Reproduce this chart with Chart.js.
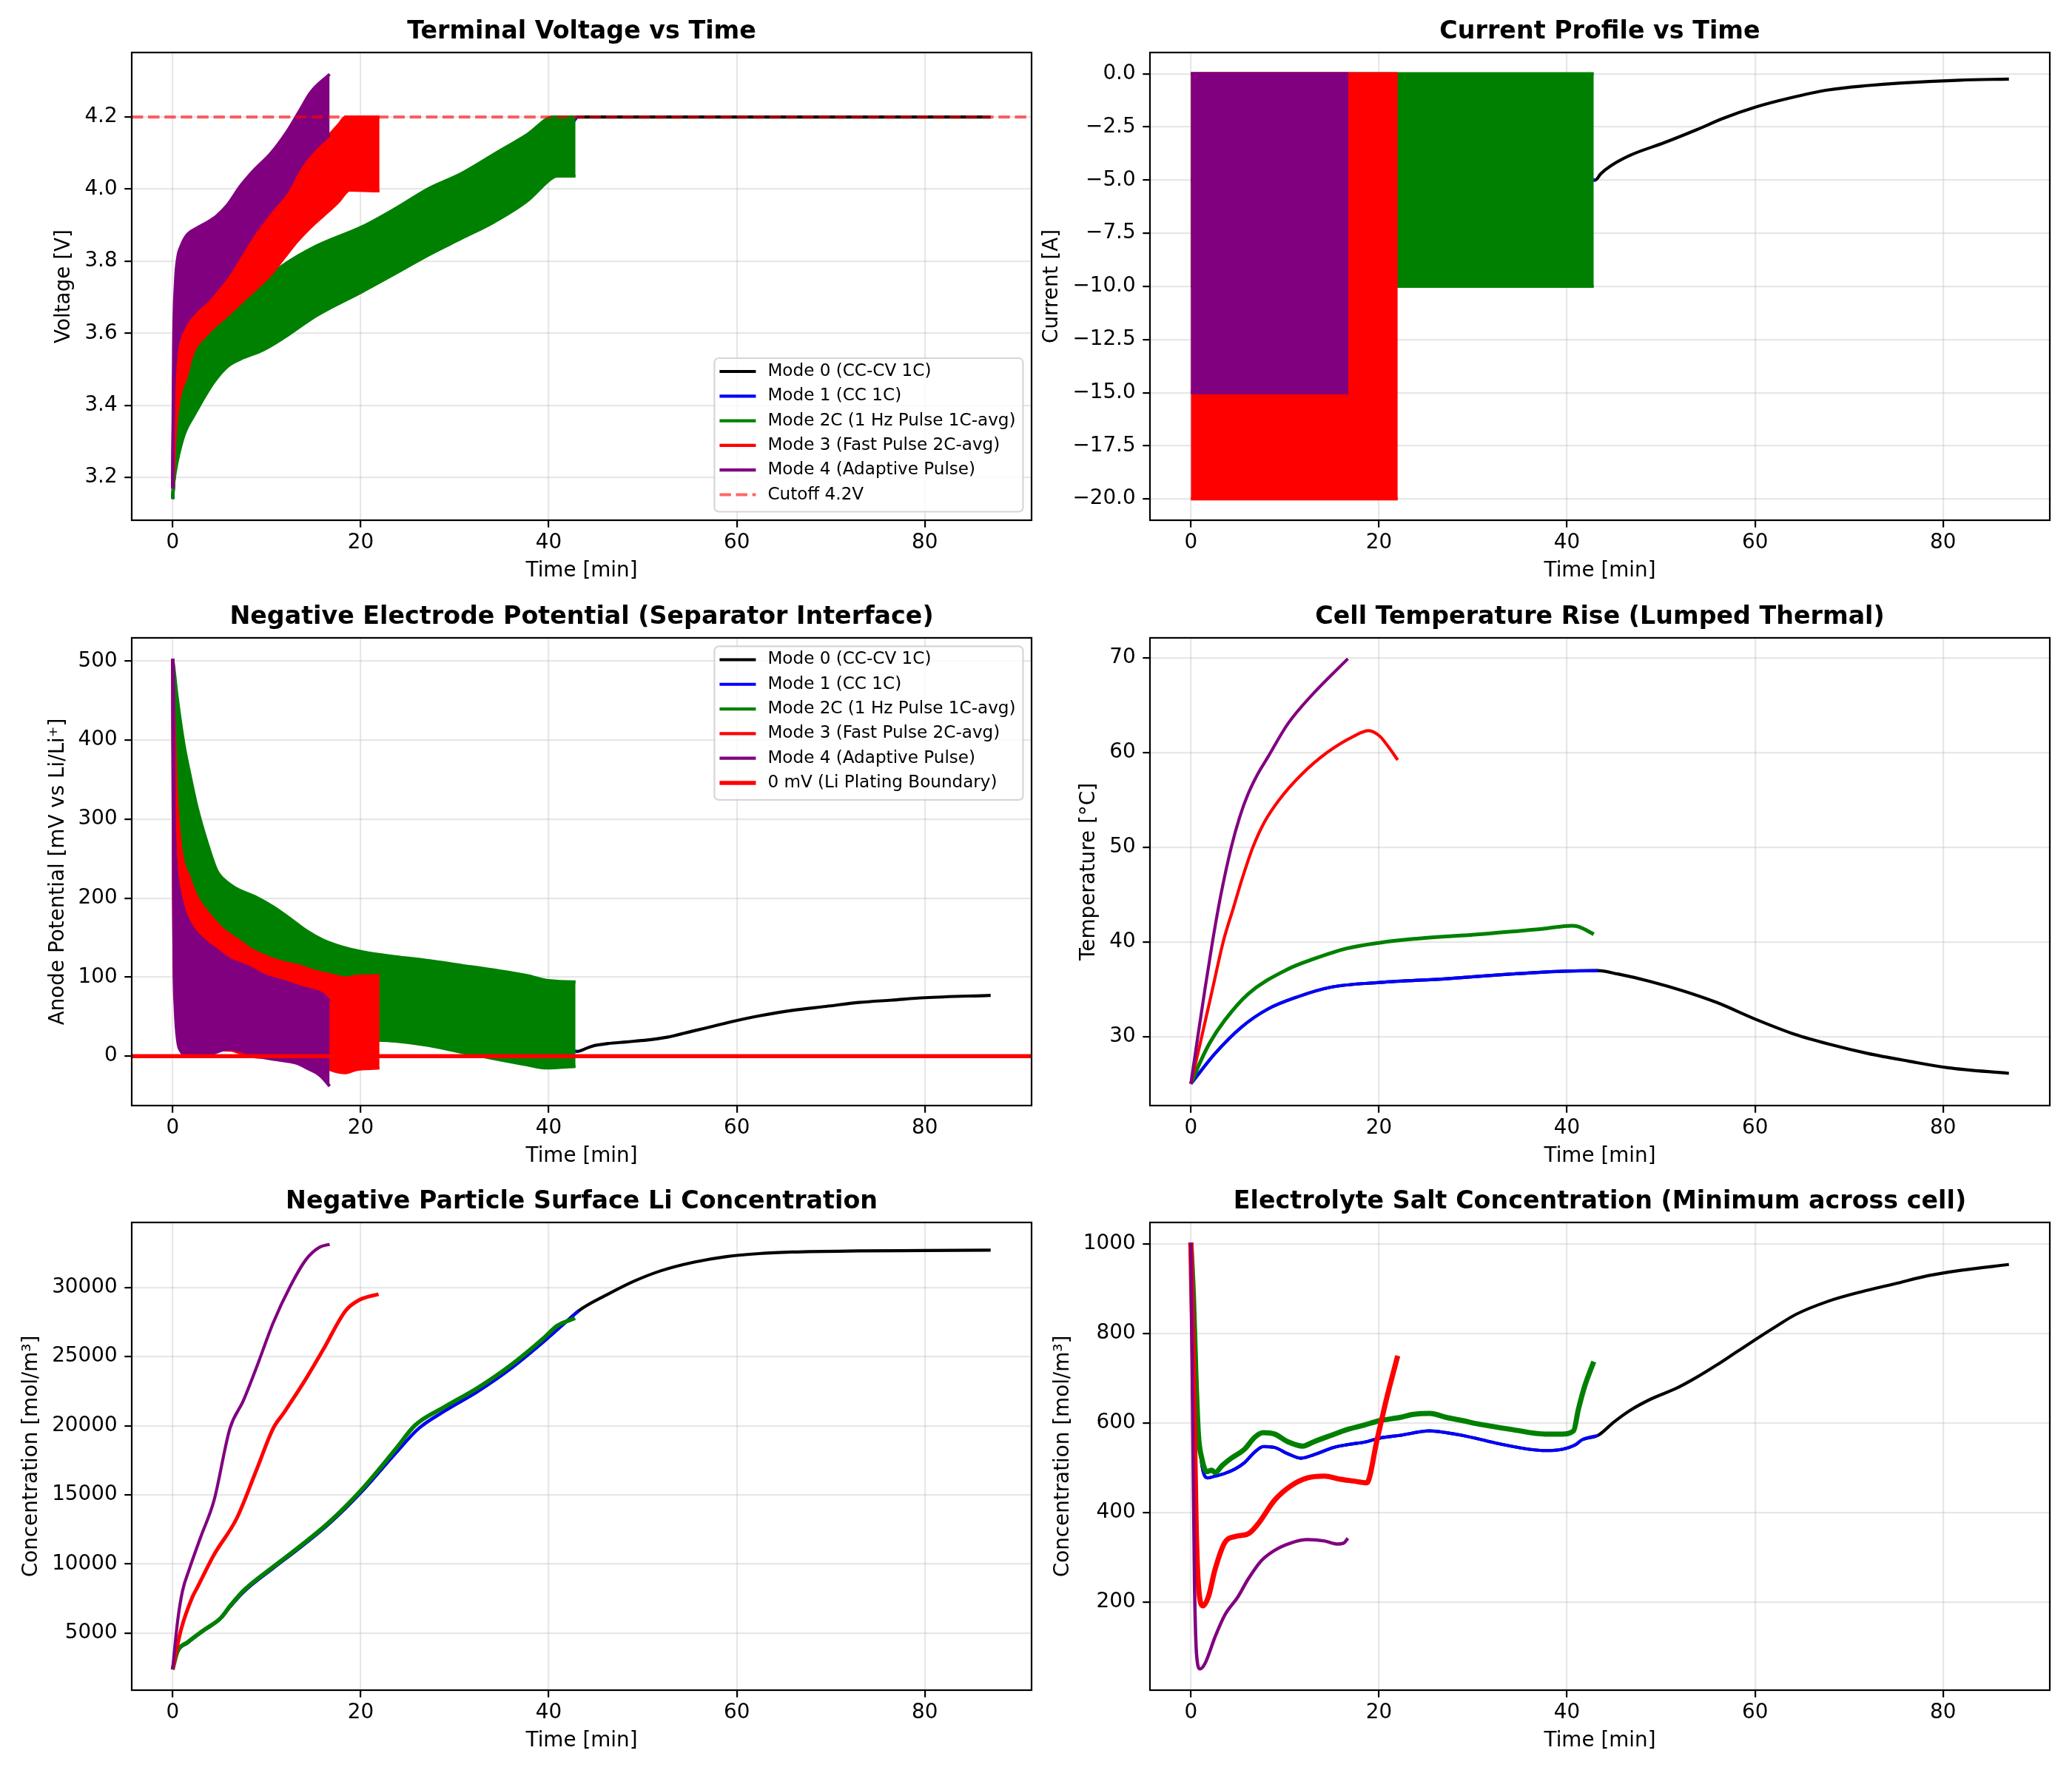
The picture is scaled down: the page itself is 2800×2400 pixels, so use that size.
<!DOCTYPE html>
<html>
<head>
<meta charset="utf-8">
<script src="https://cdn.jsdelivr.net/npm/chart.js@4.4.1/dist/chart.umd.min.js"></script>
<style>
  body { margin: 0; background: #fff; }
  #fig { position: relative; width: 2800px; height: 2400px; background: #fff; }
  canvas { position: absolute; }
</style>
</head>
<body>
<div id="fig"></div>
<script>
// ---------- tick labels ----------
const xTicks = [0, 20, 40, 60, 80];
const vTicks = [3.2, 3.4, 3.6, 3.8, 4.0, 4.2];
const iTicks = [0, -2.5, -5, -7.5, -10, -12.5, -15, -17.5, -20];
const aTicks = [0, 100, 200, 300, 400, 500];
const tempTicks = [30, 40, 50, 60, 70];
const csTicks = [5000, 10000, 15000, 20000, 25000, 30000];
const ceTicks = [200, 400, 600, 800, 1000];

const modeLabels = ['Mode 0 (CC-CV 1C)', 'Mode 1 (CC 1C)', 'Mode 2C (1 Hz Pulse 1C-avg)',
                    'Mode 3 (Fast Pulse 2C-avg)', 'Mode 4 (Adaptive Pulse)'];
const cutoffV = 4.2;
const platingMV = 0;

// ---------- terminal voltage [V] (pulse modes as envelopes) ----------
const vT1 = [0, 0.5, 1.4, 3.2, 5.8, 9.6, 15.3, 20.2, 27.2, 34.2, 40.5, 43.0];
const vMode1 = [3.14, 3.32, 3.40, 3.50, 3.578, 3.65, 3.745, 3.806, 3.909, 4.003, 4.115, 4.2];
const vT0 = [0, 0.5, 1.4, 3.2, 5.8, 9.6, 15.3, 20.2, 27.2, 34.2, 40.5, 43.0, 87];
const vMode0 = [3.14, 3.32, 3.40, 3.50, 3.578, 3.65, 3.745, 3.806, 3.909, 4.003, 4.115, 4.2, 4.2];
const vT2 = [0, 0.15, 0.5, 0.9, 1.4, 2.3, 3.2, 4.4, 5.8, 7.2, 9.6, 11.8, 15.3, 20.2, 23.7, 27.2, 30.7, 34.2, 37.7, 40.5, 41.0, 42.85];
const vLo2 = [3.14, 3.19, 3.245, 3.29, 3.33, 3.373, 3.415, 3.465, 3.507, 3.528, 3.553, 3.587, 3.649, 3.716, 3.766, 3.817, 3.863, 3.909, 3.967, 4.033, 4.036, 4.036];
const vHi2 = [3.14, 3.30, 3.40, 3.44, 3.474, 3.545, 3.58, 3.62, 3.649, 3.683, 3.743, 3.789, 3.842, 3.896, 3.946, 4.001, 4.043, 4.097, 4.151, 4.2, 4.2, 4.2];
const vT3 = [0, 0.1, 0.3, 0.6, 0.9, 1.4, 2.1, 3.7, 5.8, 7.9, 10.4, 11.8, 13.2, 14.9, 16.7, 17.7, 18.4, 18.8, 22.0];
const vLo3 = [3.17, 3.22, 3.33, 3.40, 3.44, 3.474, 3.541, 3.599, 3.649, 3.70, 3.762, 3.808, 3.854, 3.90, 3.942, 3.967, 3.99, 3.997, 3.995];
const vHi3 = [3.17, 3.45, 3.55, 3.60, 3.62, 3.64, 3.66, 3.70, 3.77, 3.86, 3.95, 3.99, 4.055, 4.11, 4.151, 4.18, 4.2, 4.2, 4.2];
const vT4 = [0, 0.1, 0.3, 0.53, 0.9, 1.6, 2.6, 3.7, 4.7, 5.8, 7.2, 8.6, 10.4, 12.1, 13.5, 14.7, 16.7];
const vLo4 = [3.17, 3.40, 3.52, 3.57, 3.60, 3.635, 3.665, 3.691, 3.722, 3.758, 3.817, 3.875, 3.938, 3.992, 4.059, 4.10, 4.151];
const vHi4 = [3.17, 3.55, 3.74, 3.808, 3.842, 3.875, 3.892, 3.908, 3.926, 3.955, 4.008, 4.051, 4.098, 4.157, 4.217, 4.269, 4.319];

// ---------- current [A] ----------
const iT0 = [0, 43.0, 43.6, 44.7, 46.8, 50.3, 53.8, 56.6, 60.1, 63.6, 67.8, 72.1, 75.3, 81.8, 87];
const iMode0 = [-5, -5, -4.7, -4.32, -3.82, -3.25, -2.63, -2.10, -1.56, -1.15, -0.76, -0.55, -0.44, -0.30, -0.25];
const iT1 = [0, 43.0];
const iMode1 = [-5, -5];
const iT2 = [0, 42.85];
const iLo2 = [-10, -10];
const iHi2 = [0, 0];
const iT3 = [0, 22.0];
const iLo3 = [-20, -20];
const iHi3 = [0, 0];
const iT4 = [0, 16.75];
const iLo4 = [-15, -15];
const iHi4 = [0, 0];

// ---------- anode potential [mV] ----------
const aT0 = [0, 0.5, 2, 5, 10, 15, 20, 25, 30, 35, 40, 43.0, 44.0, 44.7, 46.3, 48.2, 50.5, 52.6, 55.4, 57.5, 59.6, 62.4, 65.9, 69.5, 73, 76.5, 80, 87];
const aMode0 = [503, 250, 160, 110, 90, 70, 55, 50, 40, 25, 12, 6, 10, 13, 16, 18, 20.5, 24, 32, 38, 44, 51, 58, 63, 68, 71, 74, 77];
const aT1 = [0, 0.5, 2, 5, 10, 15, 20, 25, 30, 35, 40, 43.0];
const aMode1 = [503, 250, 160, 110, 90, 70, 55, 50, 40, 25, 12, 6];
const aT2 = [0, 0.1, 0.5, 1.2, 1.9, 2.6, 3.7, 4.7, 5.8, 6.8, 8.9, 10.7, 12.5, 14.2, 16, 18.1, 20.2, 23.7, 27.2, 30.7, 34.2, 37.7, 39.8, 42.85];
const aHi2 = [503, 495, 453, 395, 353, 315, 269, 235, 220, 212, 201, 189, 174, 159, 147, 138, 132, 126, 121, 115, 109, 102, 96, 94];
const aLo2 = [503, 300, 150, 90, 70, 60, 50, 45, 42, 40, 37, 34, 31, 28, 26, 23, 21, 19, 13.6, 5, -3.3, -11, -15, -13];
const aT3 = [0, 0.1, 0.35, 0.9, 1.75, 2.6, 4, 5.4, 6.2, 7.2, 8.2, 10.4, 12, 13.2, 14, 15.3, 16, 16.8, 18.4, 19.5, 20.2, 22.0];
const aHi3 = [503, 450, 346, 262, 227, 201, 178, 160, 153, 145, 136, 124, 118, 115, 112, 107, 105, 103, 99, 101, 101.5, 102];
const aLo3 = [503, 200, 60, 25, 12, 10, 9, 8, 7.5, 4, 0, -2, -4, -6, -7, -9, -12, -17, -21, -17, -16, -15];
const aT4 = [0, 0.08, 0.15, 0.28, 0.53, 0.88, 1.23, 1.93, 3.7, 4.4, 5.4, 6.1, 7.2, 8.2, 9.6, 11.4, 12.5, 13.2, 14.6, 15.3, 16.0, 16.7];
const aHi4 = [503, 490, 330, 262, 224, 201, 185, 166, 143, 137, 128, 122, 117, 112, 103, 96, 92, 89, 84, 82, 78, 69];
const aLo4 = [503, 250, 120, 60, 20, 6, 2, 1, 2, 4, 8, 9, 7, 3, -1.5, -5, -7, -9, -17, -21, -28, -38];

// ---------- cell temperature [°C] ----------
const tT0 = [0, 2.57, 5.4, 8.2, 11.4, 14.9, 20.1, 27.2, 34.2, 39.8, 43.3, 45.4, 48.9, 52.4, 55.9, 60.1, 64.3, 67.8, 72, 76.3, 80.5, 87];
const temp0 = [25, 28.2, 31.0, 32.9, 34.2, 35.2, 35.7, 36.1, 36.6, 36.9, 36.95, 36.6, 35.8, 34.8, 33.6, 31.8, 30.2, 29.2, 28.2, 27.4, 26.7, 26.1];
const tT1 = [0, 2.57, 5.4, 8.2, 11.4, 14.9, 20.1, 27.2, 34.2, 39.8, 43.3];
const temp1 = [25, 28.2, 31.0, 32.9, 34.2, 35.2, 35.7, 36.1, 36.6, 36.9, 36.95];
const tT2 = [0, 1.0, 2.0, 3.6, 6.1, 10.3, 13.1, 16.6, 20.1, 23.7, 30.7, 37.7, 40.5, 41.2, 42.85];
const temp2 = [25, 27.3, 29.3, 31.7, 34.5, 37.1, 38.2, 39.3, 39.9, 40.3, 40.8, 41.4, 41.7, 41.6, 40.8];
const tT3 = [0, 1.16, 2.3, 3.44, 4.5, 5.5, 6.6, 7.8, 9.4, 11.7, 14.5, 17.3, 18.9, 20.1, 21.0, 22.0];
const temp3 = [25, 30, 35, 40, 43.5, 46.8, 50, 52.6, 55, 57.6, 60, 61.7, 62.3, 61.7, 60.6, 59.2];
const tT4 = [0, 0.74, 1.5, 2.3, 3.2, 4.3, 5.2, 6.08, 7.1, 8.19, 10.3, 13.1, 16.7];
const temp4 = [25, 30, 35, 40, 45, 50, 53.2, 55.6, 57.7, 59.5, 63.0, 66.3, 69.9];

// ---------- negative particle surface concentration [mol/m3] ----------
const sT0 = [0, 0.53, 1.6, 3.3, 5.1, 6.1, 7.5, 10.7, 13.2, 16.7, 20.2, 23.7, 26.2, 28.9, 32.5, 36, 39.5, 41.5, 43.2, 46.3, 49.1, 51.9, 55.4, 58.9, 62.4, 65.9, 73, 80, 87];
const cs0 = [2384, 3650, 4300, 5180, 6050, 6900, 7950, 9700, 11000, 12950, 15300, 18000, 19820, 21050, 22500, 24150, 26100, 27300, 28320, 29510, 30460, 31200, 31820, 32230, 32450, 32560, 32640, 32670, 32700];
const sT1 = [0, 0.53, 1.6, 3.3, 5.1, 6.1, 7.5, 10.7, 13.2, 16.7, 20.2, 23.7, 26.2, 28.9, 32.5, 36, 39.5, 41.5, 43.2];
const cs1 = [2384, 3650, 4300, 5180, 6050, 6900, 7950, 9700, 11000, 12950, 15300, 18000, 19820, 21050, 22500, 24150, 26100, 27300, 28320];
const sT2 = [0, 0.53, 1.6, 3.3, 5.1, 6.1, 7.5, 10.7, 13.2, 16.7, 20.2, 23.7, 25.8, 28.9, 32.5, 36, 39.5, 40.9, 42.8];
const cs2 = [2384, 3690, 4350, 5220, 6090, 6960, 8050, 9800, 11100, 13060, 15460, 18300, 20040, 21350, 22760, 24400, 26360, 27230, 27780];
const sT3 = [0, 0.88, 2.1, 2.6, 4.4, 6.8, 8.9, 10.7, 11.8, 13.9, 16, 18.4, 19.8, 21.9];
const cs3 = [2384, 5220, 7610, 8270, 10670, 13280, 16770, 19820, 20910, 23090, 25490, 28320, 29080, 29520];
const sT4 = [0, 0.53, 1.05, 1.75, 3.0, 4.4, 6.1, 7.5, 8.9, 10.7, 12.5, 14.2, 15.6, 16.7];
const cs4 = [2384, 5870, 8050, 9580, 11980, 14590, 19820, 21780, 24180, 27450, 30070, 32030, 32900, 33120];

// ---------- electrolyte minimum concentration [mol/m3] ----------
const eT0 = [0, 0.28, 0.63, 1.16, 1.8, 2.6, 3.6, 4.7, 5.7, 6.8, 7.7, 8.9, 10.3, 11.7, 13.1, 15.2, 16.6, 18.7, 20.1, 22.2, 25.4, 27.2, 28.9, 32.4, 36, 37.7, 39.5, 40.9, 41.6, 43.3, 45, 46.8, 48.9, 51.7, 53.8, 55.9, 58, 60.1, 62.2, 64.3, 67.8, 71.3, 74.9, 78.4, 81.9, 87];
const ce0 = [1003, 845, 642, 508, 477, 481, 487, 497, 511, 535, 547, 545, 531, 521, 529, 545, 551, 558, 566, 572, 582, 578, 572, 555, 541, 538, 541, 551, 562, 572, 602, 629, 653, 678, 702, 729, 758, 787, 815, 842, 872, 893, 911, 929, 941, 954];
const eT1 = [0, 0.28, 0.63, 1.16, 1.8, 2.6, 3.6, 4.7, 5.7, 6.8, 7.7, 8.9, 10.3, 11.7, 13.1, 15.2, 16.6, 18.7, 20.1, 22.2, 25.4, 27.2, 28.9, 32.4, 36, 37.7, 39.5, 40.9, 41.6, 43.3];
const ce1 = [1003, 845, 642, 508, 477, 481, 487, 497, 511, 535, 547, 545, 531, 521, 529, 545, 551, 558, 566, 572, 582, 578, 572, 555, 541, 538, 541, 551, 562, 572];
const eT2 = [0, 0.28, 0.53, 0.8, 1.16, 1.7, 2.2, 2.6, 3.3, 4.3, 5.7, 6.8, 7.7, 8.9, 10.3, 11.9, 13.1, 14.9, 16.6, 18.4, 20.1, 22.2, 23.7, 25.4, 27.2, 28.9, 30.7, 34.2, 37.7, 39.5, 40.7, 41.2, 41.9, 42.85];
const ce2 = [1003, 879, 710, 575, 521, 491, 494, 489, 504, 521, 541, 568, 578, 575, 558, 548, 558, 572, 585, 595, 605, 612, 619, 621, 612, 605, 597, 585, 575, 575, 582, 629, 683, 737];
const eT3 = [0, 0.28, 0.56, 0.8, 1.3, 1.86, 2.57, 3.6, 4.7, 6.1, 7.1, 8.9, 10.7, 12.4, 14.2, 15.9, 17.3, 18.7, 19.8, 20.8, 22.0];
const ce3 = [1003, 710, 373, 238, 191, 211, 272, 332, 346, 352, 373, 427, 460, 477, 481, 474, 470, 466, 562, 653, 750];
const eT4 = [0, 0.18, 0.39, 0.63, 0.98, 1.5, 2.6, 3.6, 5.0, 6.1, 7.5, 8.9, 10.7, 12.4, 14.2, 15.6, 16.3, 16.7];
const ce4 = [1003, 642, 238, 76, 50, 62, 123, 170, 211, 251, 292, 315, 332, 339, 336, 329, 332, 342];

// ---------- layout ----------
const LW = 4.17;
const COL = { m0: '#000000', m1: '#0000ff', m2: '#008000', m3: '#ff0000', m4: '#800080' };
const AX_W = 1216, AX_H = 632, TITLE_H = 58, X_H = 85;
const X_MIN = -4.35, X_MAX = 91.35;
const FONT = "'DejaVu Sans'";

Chart.defaults.font.family = FONT;
Chart.defaults.color = '#000';

function line(t, v, color, extra) {
  return Object.assign({
    data: t.map((x, i) => ({ x: x, y: v[i] })),
    label: '',
    borderColor: color,
    backgroundColor: color,
    borderWidth: LW,
    pointRadius: 0,
    fill: false,
    cubicInterpolationMode: 'monotone',
    borderJoinStyle: 'round',
    borderCapStyle: 'butt'
  }, extra || {});
}

function band(t, lo, hi, color, label) {
  return [
    line(t, lo, color, { label: label }),
    line(t, hi, color, { fill: '-1' })
  ];
}

function hline(y, color, label, extra) {
  return line([X_MIN, X_MAX], [y, y], color, Object.assign({ label: label, cubicInterpolationMode: 'default' }, extra));
}

// spines round the axes
const framePlugin = {
  id: 'frame',
  afterDatasetsDraw(chart) {
    const a = chart.chartArea, ctx = chart.ctx;
    ctx.save();
    ctx.strokeStyle = '#000';
    ctx.lineWidth = 2.2;
    ctx.strokeRect(a.left, a.top, a.right - a.left, a.bottom - a.top);
    ctx.restore();
  }
};

// matplotlib-like framed legend inside the axes
const boxLegend = {
  id: 'boxLegend',
  afterDraw(chart, args, opts) {
    if (!opts || !opts.corner) return;
    const ctx = chart.ctx, a = chart.chartArea;
    const items = chart.data.datasets.filter(d => d.label);
    const fs = 23.1, rowH = 33.3;
    ctx.save();
    ctx.font = fs + 'px ' + FONT;
    const textW = Math.max(...items.map(d => ctx.measureText(d.label).width));
    const w = 7 + 49 + 16 + textW + 10;
    const h = 18 + (items.length - 1) * rowH + 23;
    const x = a.right - 11.5 - w;
    const y = opts.corner === 'br' ? a.bottom - 11.5 - h : a.top + 11.5;
    ctx.beginPath();
    ctx.roundRect(x, y, w, h, 6);
    ctx.fillStyle = 'rgba(255,255,255,0.8)';
    ctx.fill();
    ctx.strokeStyle = 'rgba(204,204,204,0.8)';
    ctx.lineWidth = 2.2;
    ctx.stroke();
    items.forEach((d, i) => {
      const cy = y + 18 + i * rowH;
      ctx.beginPath();
      ctx.setLineDash(d.borderDash || []);
      ctx.strokeStyle = d.borderColor;
      ctx.lineWidth = d.borderWidth;
      ctx.moveTo(x + 7, cy);
      ctx.lineTo(x + 56, cy);
      ctx.stroke();
      ctx.setLineDash([]);
      ctx.fillStyle = '#000';
      ctx.textBaseline = 'middle';
      ctx.textAlign = 'left';
      ctx.fillText(d.label, x + 72, cy);
    });
    ctx.restore();
  }
};

Chart.register(framePlugin, boxLegend);

const fmt1 = v => v.toFixed(1).replace('-', '\u2212');
const fmt0 = v => String(Math.round(v)).replace('-', '\u2212');

function panel(p) {
  const fig = document.getElementById('fig');
  const c = document.createElement('canvas');
  const W = Math.ceil(p.yW + AX_W + 14);
  const H = TITLE_H + AX_H + X_H + 6;
  c.width = W; c.height = H;
  c.style.left = (p.left - p.yW) + 'px';
  c.style.top = (p.top - TITLE_H) + 'px';
  c.style.width = W + 'px';
  c.style.height = H + 'px';
  fig.appendChild(c);

  p.datasets.forEach((d, i) => { d.order = -i; });

  const tickFont = { family: FONT, size: 27.8 };
  const grid = { color: 'rgba(176,176,176,0.3)', lineWidth: 2.2, tickColor: '#000', tickWidth: 2.2, tickLength: 9.7, drawTicks: true };

  new Chart(c, {
    type: 'line',
    data: { datasets: p.datasets },
    options: {
      responsive: false,
      devicePixelRatio: 1,
      animation: false,
      events: [],
      layout: { padding: { left: 0, top: 0, right: W - p.yW - AX_W, bottom: H - TITLE_H - AX_H - X_H } },
      scales: {
        x: {
          type: 'linear',
          min: X_MIN, max: X_MAX,
          afterBuildTicks: s => { s.ticks = xTicks.map(v => ({ value: v })); },
          afterFit: s => { s.height = X_H; },
          ticks: { font: tickFont, color: '#000', padding: 4.7, autoSkip: false, maxRotation: 0, callback: v => fmt0(v) },
          grid: grid,
          border: { display: false },
          title: { display: true, text: 'Time [min]', font: { family: FONT, size: 27.8 }, color: '#000', padding: 0 }
        },
        y: {
          type: 'linear',
          min: p.yMin, max: p.yMax,
          afterBuildTicks: s => { s.ticks = p.yTicks.map(v => ({ value: v })); },
          afterFit: s => { s.width = p.yW; },
          ticks: { font: tickFont, color: '#000', padding: 9.7, autoSkip: false, callback: v => p.fmt(v) },
          grid: grid,
          border: { display: false },
          title: { display: true, text: p.yLabel, font: { family: FONT, size: 27.8 }, color: '#000', padding: 0 }
        }
      },
      plugins: {
        legend: { display: false },
        tooltip: { enabled: false },
        title: {
          display: true, text: p.title, fullSize: false, color: '#000',
          font: { family: FONT, size: 33.3, weight: 'bold', lineHeight: 1.2 },
          padding: { top: 10.5, bottom: 7.5 }
        },
        boxLegend: { corner: p.legend || null }
      }
    }
  });
}

// 1. terminal voltage
panel({
  left: 178, top: 71, yW: 108,
  yMin: 3.081, yMax: 4.379, yTicks: vTicks, fmt: fmt1,
  title: 'Terminal Voltage vs Time', yLabel: 'Voltage [V]', legend: 'br',
  datasets: [
    line(vT0, vMode0, COL.m0, { label: modeLabels[0] }),
    line(vT1, vMode1, COL.m1, { label: modeLabels[1] }),
    ...band(vT2, vLo2, vHi2, COL.m2, modeLabels[2]),
    ...band(vT3, vLo3, vHi3, COL.m3, modeLabels[3]),
    ...band(vT4, vLo4, vHi4, COL.m4, modeLabels[4]),
    hline(cutoffV, 'rgba(255,0,0,0.6)', 'Cutoff 4.2V', { borderDash: [15.4, 6.7] })
  ]
});

// 2. current profile
panel({
  left: 1554, top: 71, yW: 149,
  yMin: -21, yMax: 1, yTicks: iTicks, fmt: fmt1,
  title: 'Current Profile vs Time', yLabel: 'Current [A]',
  datasets: [
    line(iT0, iMode0, COL.m0),
    line(iT1, iMode1, COL.m1),
    ...band(iT2, iLo2, iHi2, COL.m2, ''),
    ...band(iT3, iLo3, iHi3, COL.m3, ''),
    ...band(iT4, iLo4, iHi4, COL.m4, '')
  ]
});

// 3. anode potential
panel({
  left: 178, top: 862, yW: 116,
  yMin: -62.5, yMax: 529.5, yTicks: aTicks, fmt: fmt0,
  title: 'Negative Electrode Potential (Separator Interface)', yLabel: 'Anode Potential [mV vs Li/Li\u207A]', legend: 'tr',
  datasets: [
    line(aT0, aMode0, COL.m0, { label: modeLabels[0] }),
    line(aT1, aMode1, COL.m1, { label: modeLabels[1] }),
    ...band(aT2, aLo2, aHi2, COL.m2, modeLabels[2]),
    ...band(aT3, aLo3, aHi3, COL.m3, modeLabels[3]),
    ...band(aT4, aLo4, aHi4, COL.m4, modeLabels[4]),
    hline(platingMV, '#ff0000', '0 mV (Li Plating Boundary)', { borderWidth: 5.56 })
  ]
});

// 4. temperature
panel({
  left: 1554, top: 862, yW: 99,
  yMin: 22.7, yMax: 72.1, yTicks: tempTicks, fmt: fmt0,
  title: 'Cell Temperature Rise (Lumped Thermal)', yLabel: 'Temperature [\u00B0C]',
  datasets: [
    line(tT0, temp0, COL.m0),
    line(tT1, temp1, COL.m1),
    line(tT2, temp2, COL.m2, { borderWidth: 5 }),
    line(tT3, temp3, COL.m3),
    line(tT4, temp4, COL.m4)
  ]
});

// 5. surface concentration
panel({
  left: 178, top: 1652, yW: 152,
  yMin: 880, yMax: 34700, yTicks: csTicks, fmt: fmt0,
  title: 'Negative Particle Surface Li Concentration', yLabel: 'Concentration [mol/m\u00B3]',
  datasets: [
    line(sT0, cs0, COL.m0),
    line(sT1, cs1, COL.m1),
    line(sT2, cs2, COL.m2, { borderWidth: 5.6 }),
    line(sT3, cs3, COL.m3, { borderWidth: 5 }),
    line(sT4, cs4, COL.m4)
  ]
});

// 6. electrolyte concentration
panel({
  left: 1554, top: 1652, yW: 134,
  yMin: 2.5, yMax: 1048, yTicks: ceTicks, fmt: fmt0,
  title: 'Electrolyte Salt Concentration (Minimum across cell)', yLabel: 'Concentration [mol/m\u00B3]',
  datasets: [
    line(eT0, ce0, COL.m0),
    line(eT1, ce1, COL.m1),
    line(eT2, ce2, COL.m2, { borderWidth: 7 }),
    line(eT3, ce3, COL.m3, { borderWidth: 7 }),
    line(eT4, ce4, COL.m4, { borderWidth: 4.5 })
  ]
});
</script>
</body>
</html>
